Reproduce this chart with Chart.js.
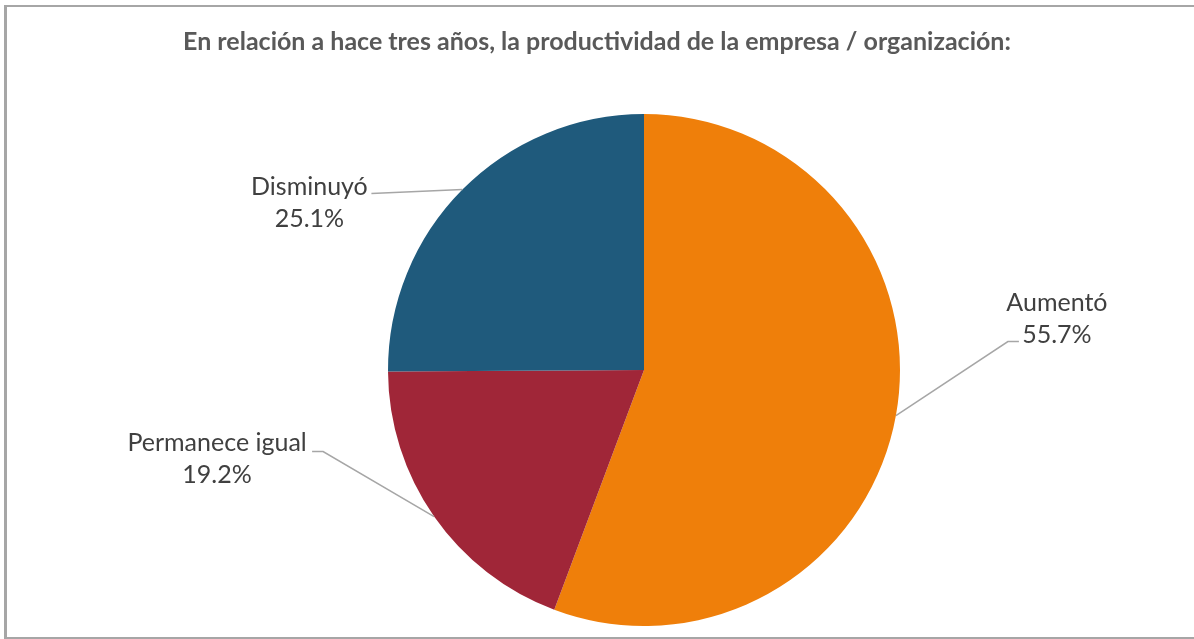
<!DOCTYPE html>
<html>
<head>
<meta charset="utf-8">
<script src="https://cdn.jsdelivr.net/npm/chart.js@4/dist/chart.umd.min.js"></script>
<style>
  html, body { margin: 0; padding: 0; background: #fff; }
  #wrap { width: 1194px; height: 639px; }
</style>
</head>
<body>
<div id="wrap"><canvas id="myChart" width="1194" height="639"></canvas></div>
<script>
const titleText = 'En relación a hace tres años, la productividad de la empresa / organización:';
const categories = ['Aumentó', 'Permanece igual', 'Disminuyó'];
const values = [55.7, 19.2, 25.1];
const colors = ['#EF7F0A', '#A02638', '#1F5A7C'];

// label placement relative to the slice edge point: [elbow, lineEnd, textCenter]
const labelLayout = [
  { elbow: [112, -74], end: [123, -74], text: [161, -97] },
  { elbow: [-111, -65], end: [-122, -65], text: [-217, -58] },
  { elbow: null, end: [-91, 4], text: [-153, 13] },
];

const decorPlugin = {
  id: 'decor',
  beforeDraw(chart) {
    const ctx = chart.ctx;
    ctx.save();
    ctx.fillStyle = '#fff';
    ctx.fillRect(0, 0, chart.width, chart.height);
    ctx.fillStyle = '#a6a6a6';
    ctx.fillRect(4, 5, chart.width - 4, 2);
    ctx.fillRect(4, 5, 3, 634);
    ctx.fillRect(4, 637, chart.width - 4, 2);
    ctx.fillStyle = '#595959';
    ctx.font = 'bold 25px Lato';
    ctx.textAlign = 'center';
    ctx.textBaseline = 'middle';
    ctx.fillText(titleText, chart.width / 2, 42);
    ctx.restore();
  },
  afterDraw(chart) {
    const ctx = chart.ctx;
    const meta = chart.getDatasetMeta(0);
    ctx.save();
    meta.data.forEach((arc, i) => {
      const mid = (arc.startAngle + arc.endAngle) / 2;
      const ex = arc.x + arc.outerRadius * Math.cos(mid);
      const ey = arc.y + arc.outerRadius * Math.sin(mid);
      const lay = labelLayout[i];
      ctx.strokeStyle = '#a6a6a6';
      ctx.lineWidth = 1.5;
      ctx.beginPath();
      ctx.moveTo(ex, ey);
      if (lay.elbow) ctx.lineTo(ex + lay.elbow[0], ey + lay.elbow[1]);
      ctx.lineTo(ex + lay.end[0], ey + lay.end[1]);
      ctx.stroke();
      const tx = ex + lay.text[0];
      const ty = ey + lay.text[1];
      ctx.fillStyle = '#404040';
      ctx.font = '25px Lato';
      ctx.textAlign = 'center';
      ctx.textBaseline = 'middle';
      ctx.fillText(categories[i], tx, ty - 16);
      ctx.fillText(values[i].toFixed(1) + '%', tx, ty + 16);
    });
    ctx.restore();
  }
};

const canvas = document.getElementById('myChart');
new Chart(canvas.getContext('2d'), {
  type: 'pie',
  data: {
    labels: categories,
    datasets: [{
      data: values,
      backgroundColor: colors,
      borderWidth: 0,
    }],
  },
  options: {
    responsive: false,
    animation: false,
    layout: { padding: { left: 388, right: 294, top: 114, bottom: 13 } },
    plugins: {
      legend: { display: false },
      tooltip: { enabled: false },
      title: { display: false },
    },
  },
  plugins: [decorPlugin],
});
</script>
</body>
</html>
